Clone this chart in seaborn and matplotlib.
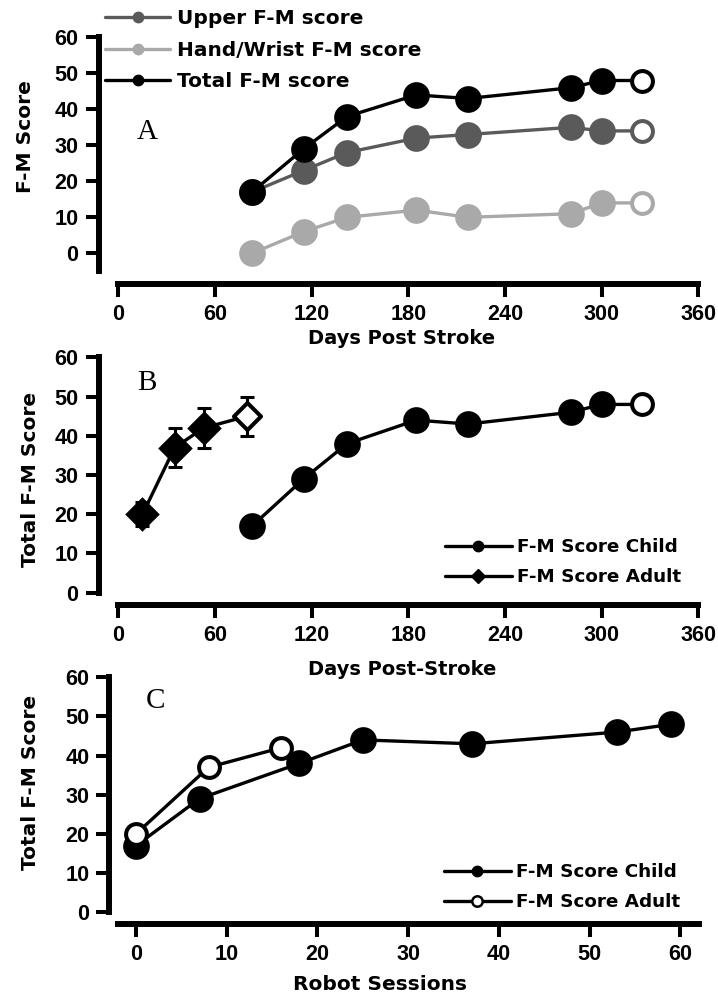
import matplotlib
matplotlib.use("Agg")
import matplotlib.pyplot as plt
import seaborn as sns
from matplotlib.lines import Line2D

# panel A - days post stroke and F-M scores of the child
days = [83, 115, 142, 185, 217, 281, 300, 325]
upper_fm = [17, 23, 28, 32, 33, 35, 34, 34]
hand_fm = [0, 6, 10, 12, 10, 11, 14, 14]
total_fm = [17, 29, 38, 44, 43, 46, 48, 48]

# panel B - adult comparison group (mean +/- error)
adult_days = [15, 35, 53, 80]
adult_fm = [20, 37, 42, 45]
adult_err = [3, 5, 5, 5]

# panel C - robot sessions
child_sessions = [0, 7, 18, 25, 37, 53, 59]
child_fm = [17, 29, 38, 44, 43, 46, 48]
adult_sessions = [0, 8, 16]
adult_sess_fm = [20, 37, 42]

day_ticks = [0, 60, 120, 180, 240, 300, 360]
session_ticks = [0, 10, 20, 30, 40, 50, 60]
score_ticks = [0, 10, 20, 30, 40, 50, 60]

DARK = "#5a5a5a"
LIGHT = "#a9a9a9"
BLACK = "#000000"

sns.set_theme(style="ticks")
plt.rcParams["font.family"] = ["DejaVu Sans"]
plt.rcParams["text.color"] = "black"
plt.rcParams["axes.labelcolor"] = "black"
plt.rcParams["xtick.color"] = "black"
plt.rcParams["ytick.color"] = "black"

TICKFONT = dict(family="Liberation Sans", weight="bold", size=15.6)
LABELFONT = dict(family="DejaVu Sans", weight="bold", color="black")

fig = plt.figure(figsize=(7.18, 9.98), dpi=100)
W, H = 718.0, 998.0

axA = fig.add_axes([98.5 / W, 1 - 283.7 / H, 606.5 / W, 253.6 / H])
axB = fig.add_axes([98.5 / W, 1 - 605.0 / H, 606.5 / W, 255.5 / H])
axC = fig.add_axes([109.3 / W, 1 - 924.0 / H, 595.7 / W, 254.6 / H])

FILLED_S = 370
OPEN_S = 225
LW = 2.4


def series(ax, x, y, color, open_last=True, z=3):
    sns.lineplot(x=x, y=y, color=color, lw=LW, ax=ax, zorder=z, sort=False)
    n = len(x) - 1 if open_last else len(x)
    sns.scatterplot(x=x[:n], y=y[:n], color=color, s=FILLED_S, linewidth=0,
                    ax=ax, zorder=z + 0.5)
    if open_last:
        sns.scatterplot(x=x[n:], y=y[n:], facecolor="white", edgecolor=color,
                        s=OPEN_S, linewidth=2.9, ax=ax, zorder=z + 0.5)


def style_axis(ax, xlim, ylim, xticks, xbounds, ybounds):
    ax.set_xlim(*xlim)
    ax.set_ylim(*ylim)
    ax.set_xticks(xticks)
    ax.set_yticks(score_ticks)
    ax.set_xticklabels([str(t) for t in xticks], fontdict=TICKFONT)
    ax.set_yticklabels([str(t) for t in score_ticks], fontdict=TICKFONT)
    for side in ["top", "right"]:
        ax.spines[side].set_visible(False)
    for side in ["left", "bottom"]:
        ax.spines[side].set_linewidth(4.3)
        ax.spines[side].set_capstyle("projecting")
        ax.spines[side].set_color("black")
    ax.spines["bottom"].set_bounds(*xbounds)
    ax.spines["left"].set_bounds(*ybounds)
    ax.tick_params(axis="both", direction="out", length=9.4, width=2.9,
                   color="black", labelcolor="black", pad=5)
    ax.patch.set_visible(False)


# ---- panel A
series(axA, days, hand_fm, LIGHT, z=3)
series(axA, days, upper_fm, DARK, z=4)
series(axA, days, total_fm, BLACK, z=5)
style_axis(axA, (-12.3, 364.2), (-8.44, 62), day_ticks, (0, 360), (-5, 60))
axA.set_xlabel("Days Post Stroke", fontsize=14, labelpad=3, **LABELFONT)
axA.set_ylabel("F-M Score", fontsize=14.5, **LABELFONT)
axA.yaxis.set_label_coords(-0.105, 0.58)
axA.text(17.7, 31.7, "A", family="Liberation Serif", fontsize=21,
         ha="center", va="baseline", color="black")
handlesA = [
    Line2D([], [], color=DARK, lw=LW, marker="o", markersize=7.5),
    Line2D([], [], color=LIGHT, lw=LW, marker="o", markersize=7.5),
    Line2D([], [], color=BLACK, lw=LW, marker="o", markersize=7.5),
]
fig.legend(handlesA, ["Upper F-M score", "Hand/Wrist F-M score", "Total F-M score"],
           loc="upper left", bbox_to_anchor=(105 / W, 1 - 9.5 / H),
           frameon=False, borderpad=0, borderaxespad=0, handlelength=3.25,
           handletextpad=0.31, labelspacing=0.6, labelcolor="black",
           prop=dict(family="DejaVu Sans", weight="bold", size=14.5))

# ---- panel B
axB.errorbar(adult_days, adult_fm, yerr=adult_err, fmt="none", ecolor=BLACK,
             elinewidth=2.2, capsize=4.7, capthick=2.2, zorder=2)
sns.lineplot(x=adult_days, y=adult_fm, color=BLACK, lw=LW, ax=axB, zorder=3)
sns.scatterplot(x=adult_days[:-1], y=adult_fm[:-1], color=BLACK, marker="D",
                s=310, linewidth=0, ax=axB, zorder=3.5)
sns.scatterplot(x=adult_days[-1:], y=adult_fm[-1:], facecolor="white",
                edgecolor=BLACK, marker="D", s=190, linewidth=2.9, ax=axB,
                zorder=3.5)
series(axB, days, total_fm, BLACK, z=4)
style_axis(axB, (-12.3, 364.2), (-3.13, 62), day_ticks, (0, 360), (0, 60))
axB.set_xlabel("Days Post-Stroke", fontsize=14, labelpad=10, **LABELFONT)
axB.set_ylabel("Total F-M Score", fontsize=14.5, **LABELFONT)
axB.yaxis.set_label_coords(-0.097, 0.493)
axB.text(17.7, 51.7, "B", family="Liberation Serif", fontsize=21,
         ha="center", va="baseline", color="black")
handlesB = [
    Line2D([], [], color=BLACK, lw=LW, marker="o", markersize=7.5),
    Line2D([], [], color=BLACK, lw=LW, marker="D", markersize=7.5),
]
fig.legend(handlesB, ["F-M Score Child", "F-M Score Adult"],
           loc="upper left", bbox_to_anchor=(445 / W, 1 - 538.3 / H),
           frameon=False, borderpad=0, borderaxespad=0, handlelength=3.63,
           handletextpad=0.29, labelspacing=0.65, labelcolor="black",
           prop=dict(family="DejaVu Sans", weight="bold", size=13.2))

# ---- panel C
series(axC, child_sessions, child_fm, BLACK, open_last=False, z=3)
sns.lineplot(x=adult_sessions, y=adult_sess_fm, color=BLACK, lw=LW, ax=axC,
             zorder=4)
sns.scatterplot(x=adult_sessions, y=adult_sess_fm, facecolor="white",
                edgecolor=BLACK, s=OPEN_S, linewidth=2.9, ax=axC, zorder=4.5)
style_axis(axC, (-2.94, 62.7), (-3, 62), session_ticks, (-2, 62), (0, 60))
axC.set_xlabel("Robot Sessions", fontsize=14.5, labelpad=10, **LABELFONT)
axC.xaxis.set_label_coords(0.454, -0.2)
axC.set_ylabel("Total F-M Score", fontsize=14.5, **LABELFONT)
axC.yaxis.set_label_coords(-0.116, 0.556)
axC.text(2.1, 52.1, "C", family="Liberation Serif", fontsize=21,
         ha="center", va="baseline", color="black")
handlesC = [
    Line2D([], [], color=BLACK, lw=LW, marker="o", markersize=7.5),
    Line2D([], [], color=BLACK, lw=LW, marker="o", markersize=7.5,
           markerfacecolor="white", markeredgewidth=1.8),
]
fig.legend(handlesC, ["F-M Score Child", "F-M Score Adult"],
           loc="upper left", bbox_to_anchor=(444 / W, 1 - 863.3 / H),
           frameon=False, borderpad=0, borderaxespad=0, handlelength=3.63,
           handletextpad=0.29, labelspacing=0.65, labelcolor="black",
           prop=dict(family="DejaVu Sans", weight="bold", size=13.2))

fig.savefig("out.png", dpi=100, facecolor="white")
